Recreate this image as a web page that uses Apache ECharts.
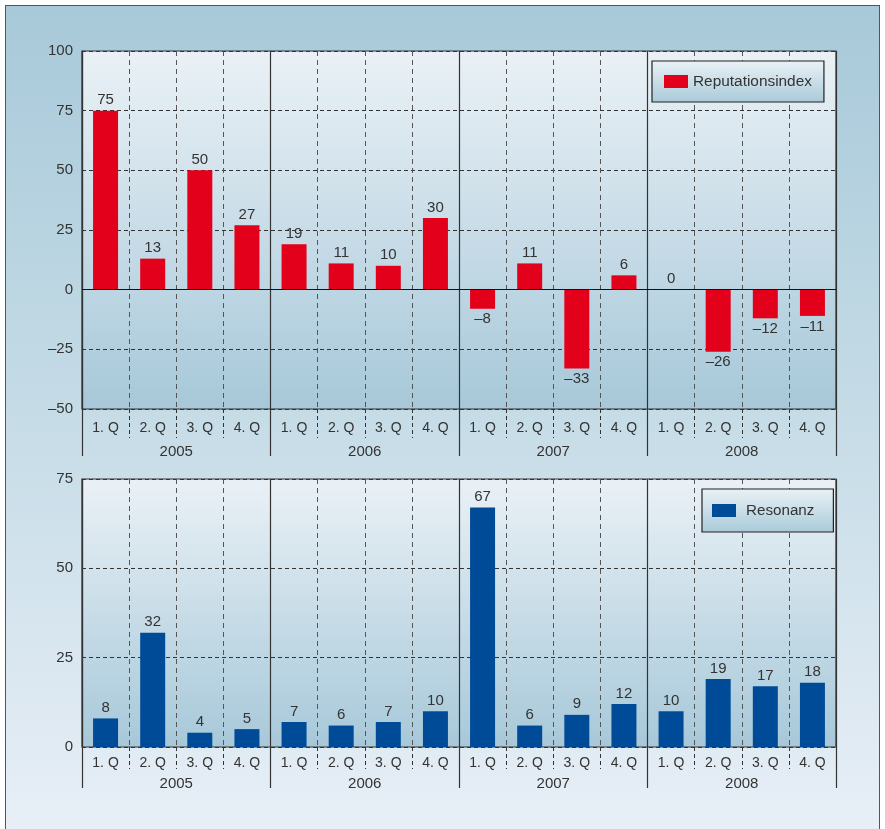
<!DOCTYPE html>
<html>
<head>
<meta charset="utf-8">
<script src="https://cdn.jsdelivr.net/npm/echarts@6/dist/echarts.min.js"></script>
<style>
  html, body { margin: 0; padding: 0; background: #ffffff; }
  #frame { position: absolute; left: 5px; top: 5px; width: 875px; height: 830px;
    border: 1px solid #555; box-sizing: border-box;
    background: linear-gradient(to bottom, #a8c9d9 0%, #c6dce7 50%, #e8eff7 100%); }
  #chart { position: absolute; left: 0; top: 0; width: 885px; height: 829px; }
</style>
</head>
<body>
<div id="frame"></div>
<div id="chart"></div>
<script>
const quarters = ['1. Q','2. Q','3. Q','4. Q','1. Q','2. Q','3. Q','4. Q','1. Q','2. Q','3. Q','4. Q','1. Q','2. Q','3. Q','4. Q'];
const years = ['2005','2006','2007','2008'];
const reputation = [75, 13, 50, 27, 19, 11, 10, 30, -8, 11, -33, 6, 0, -26, -12, -11];
const resonanz = [8, 32, 4, 5, 7, 6, 7, 10, 67, 6, 9, 12, 10, 19, 17, 18];
const topTicks = [-50, -25, 0, 25, 50, 75, 100];
const bottomTicks = [0, 25, 50, 75];

const FONT = 'Liberation Sans, Arial, Helvetica, sans-serif';
const TXT = '#333333';
const fmt = v => String(v).replace('-', '\u2013');

function plotBg() {
  return new echarts.graphic.LinearGradient(0, 0, 0, 1, [
    { offset: 0, color: '#eaf1f6' },
    { offset: 1, color: '#a7c8d9' }
  ]);
}
function legendBg() {
  return new echarts.graphic.LinearGradient(0, 0, 0, 1, [
    { offset: 0, color: '#eaf2f6' },
    { offset: 1, color: '#a9cad9' }
  ]);
}

const chart = echarts.init(document.getElementById('chart'), null, { renderer: 'canvas' });

function quarterAxis(gridIndex, tickLen, labelMargin) {
  return {
    type: 'category', gridIndex, data: quarters, position: 'bottom',
    axisLine: { show: false, onZero: false },
    axisTick: { show: true, interval: 0, length: tickLen, lineStyle: { color: '#333', type: [4, 3] } },
    axisLabel: { interval: 0, margin: labelMargin, color: TXT, fontSize: 14, fontFamily: FONT },
    splitLine: { show: true, interval: 0, lineStyle: { color: '#555', type: [5, 4], width: 1 } }
  };
}
function yearAxis(gridIndex, tickLen, labelMargin) {
  return {
    type: 'category', gridIndex, data: years, position: 'bottom', offset: 0,
    axisLine: { show: false, onZero: false },
    axisTick: { show: true, interval: 0, length: tickLen, lineStyle: { color: '#333', width: 1.2 } },
    axisLabel: { interval: 0, margin: labelMargin, color: TXT, fontSize: 15, fontFamily: FONT },
    splitLine: { show: true, interval: 0, lineStyle: { color: '#333', width: 1.2 } }
  };
}
function valueAxis(gridIndex, ticks) {
  return {
    type: 'value', gridIndex, min: ticks[0], max: ticks[ticks.length - 1], interval: 25,
    axisLine: { show: true, lineStyle: { color: '#333', width: 1.2 } },
    axisTick: { show: false },
    axisLabel: { margin: 9, color: TXT, fontSize: 15, fontFamily: FONT, formatter: fmt },
    splitLine: { show: true, lineStyle: { color: '#333', type: [4, 3], width: 1 } }
  };
}

const option = {
  animation: false,
  textStyle: { fontFamily: FONT },
  grid: [
    { left: 82, top: 51, width: 754, height: 358, show: true, backgroundColor: plotBg(), borderColor: '#333', borderWidth: 1.2 },
    { left: 82, top: 479, width: 754, height: 268, show: true, backgroundColor: plotBg(), borderColor: '#333', borderWidth: 1.2 }
  ],
  xAxis: [
    quarterAxis(0, 29, 12),
    yearAxis(0, 47, 35),
    quarterAxis(1, 22, 9),
    yearAxis(1, 41, 29)
  ],
  yAxis: [valueAxis(0, topTicks), valueAxis(1, bottomTicks)],
  legend: [
    {
      data: ['Reputationsindex'], left: 652, top: 61, orient: 'horizontal',
      icon: 'rect', itemWidth: 24, itemHeight: 13,
      padding: [13, 12, 13, 12],
      backgroundColor: legendBg(), borderColor: '#222', borderWidth: 1.2,
      textStyle: { color: TXT, fontSize: 15.4, fontFamily: FONT }
    },
    {
      data: ['Resonanz'], left: 702, top: 489, orient: 'horizontal',
      icon: 'rect', itemWidth: 24, itemHeight: 13,
      padding: [14, 19, 14, 10],
      backgroundColor: legendBg(), borderColor: '#222', borderWidth: 1.2,
      textStyle: { color: TXT, fontSize: 15.2, fontFamily: FONT, padding: [0, 0, 0, 5] }
    }
  ],
  series: [
    {
      name: 'Reputationsindex', type: 'bar', xAxisIndex: 0, yAxisIndex: 0,
      barWidth: 25,
      itemStyle: { color: '#e2001a' },
      data: reputation.map(v => ({ value: v, label: { position: v < 0 ? 'bottom' : 'top' } })),
      label: { show: true, distance: 3, color: TXT, fontSize: 15, fontFamily: FONT,
        formatter: p => fmt(p.value) },
      markLine: { silent: true, symbol: 'none', label: { show: false },
        lineStyle: { color: '#111', type: 'solid', width: 1.2 }, data: [{ yAxis: 0 }] },
      z: 3
    },
    {
      name: 'Resonanz', type: 'bar', xAxisIndex: 2, yAxisIndex: 1,
      barWidth: 25,
      itemStyle: { color: '#004b98' },
      data: resonanz,
      label: { show: true, position: 'top', distance: 3, color: TXT, fontSize: 15, fontFamily: FONT },
      z: 3
    }
  ]
};
chart.setOption(option);
</script>
</body>
</html>
